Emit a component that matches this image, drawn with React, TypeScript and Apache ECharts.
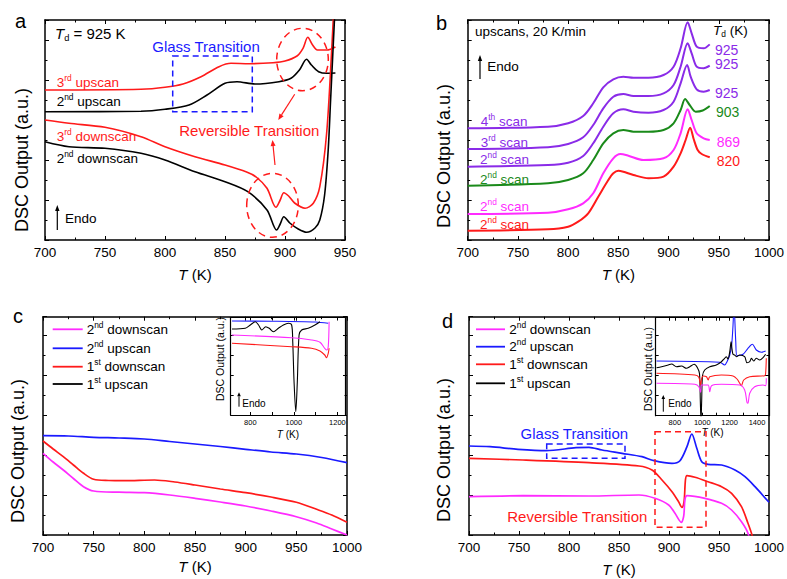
import React, { useEffect, useRef } from "react";
import * as echarts from "echarts";

const FONT = 'Arial, "Liberation Sans", Helvetica, sans-serif';
const RED = "#ff1a1a";
const BLUE = "#1a1aff";
const MAG = "#ff2bff";
const GREEN = "#1a8a1a";
const PURP = "#8a2be8";
const BLK = "#000000";

type Pt = [number, number];

// ---------- Panel a (T in K, signal in arbitrary units) ----------
const aUp3: Pt[] = [[700,150],[780,150.7],[800,152.7],[815,156],[830,163.3],[845,173.3],[855,176.7],[870,176.3],[890,177.3],[900,179],[910,184],[915,191.7],[919,202.7],[923,195],[927,190],[935,190],[942,193]];
const aUp2: Pt[] = [[700,128.3],[780,128.7],[800,130.7],[820,135],[835,145],[850,156.7],[860,158.3],[875,156],[895,158.3],[905,161.7],[912,170],[918,180.7],[922,175],[928,168.3],[935,166.7],[942,167]];
const aDown3: Pt[] = [[700,120],[720,116.7],[750,112.7],[780,103.3],[800,93.3],[825,83.3],[850,75],[868,68],[876,63],[885,51.7],[892.5,32.7],[896,40],[899,47.3],[903,44],[908,37],[916.7,31.7],[923.6,36.7],[929,53.3],[934.7,106.7],[938.9,190],[941,240]];
const aDown2: Pt[] = [[700,98.3],[720,93.3],[750,91.7],[780,86.7],[800,80],[825,68.3],[850,58.3],[869,48.3],[885,30],[893,10],[896,16],[899,23.3],[904,17],[911,11],[918,7.7],[925,12],[929,20],[933,45],[936,90],[938,140],[940,190],[942,240]];

// ---------- Panel b ----------
const bRed: Pt[] = [[700,9.3],[780,10.7],[800,13.3],[810,18.3],[820,26.7],[830,43.3],[840,60],[845,66.7],[850,69.3],[855,68.3],[865,65],[880,61.7],[895,63.3],[905,73.3],[912,86.7],[917,100],[921.5,112.3],[925,101],[929,90],[933,86],[941,82.7]];
const bMag: Pt[] = [[700,26],[780,27.3],[800,30.7],[815,36.7],[825,46.7],[835,66.7],[845,81.7],[852,86],[860,84.3],[875,80],[895,81.7],[905,90],[912,106.7],[919,130.7],[923,120],[928,106.7],[935,101.7],[941,100]];
const bGreen: Pt[] = [[700,54.3],[780,56.7],[800,60],[815,66.7],[825,80],[835,96.7],[845,106.7],[855,110],[865,108.3],[880,108.3],[895,110],[905,116.7],[912,130],[916.5,141],[921,135],[927,128.3],[934,129.5],[941,134]];
const bScan2: Pt[] = [[700,73.3],[780,75],[800,77.3],[815,84],[825,96.7],[835,113.3],[845,126.7],[855,130.7],[865,128.3],[880,127.3],[895,130],[905,138.3],[912,156.7],[918.5,175],[922,163.3],[928,150.7],[935,148.3],[941,150]];
const bScan3: Pt[] = [[700,91],[780,92.7],[800,96],[815,102.7],[825,115],[835,131.7],[845,143.3],[855,146],[865,144],[880,144],[895,146.7],[905,155],[912,173.3],[919,196.7],[923,186.7],[928,173.3],[935,171.7],[941,174.3]];
const bScan4: Pt[] = [[700,111.7],[780,113.3],[800,116.7],[815,124],[825,136.7],[835,152.7],[845,160.7],[855,163.3],[865,162.3],[880,162.3],[895,165],[905,173.3],[912,191.7],[919,217.7],[923,206.7],[928,193.3],[935,191.7],[941,195.6]];
const bTdLabels = ["925", "925", "925", "903", "869", "820"];

// ---------- Panel c ----------
const cUp2: Pt[] = [[700,99.3],[725,99],[750,97.7],[775,97],[800,96],[825,93.5],[850,91],[875,88.5],[900,85.7],[925,83],[950,81],[975,77.5],[1000,72.3]];
const cDown1: Pt[] = [[700,94],[710,86],[720,78.3],[730,70],[740,61.7],[750,55.7],[765,54.5],[780,54.3],[810,55],[830,53],[850,50],[875,46],[900,42.3],[925,38],[950,32.7],[970,25.7],[985,20],[1000,12.7]];
const cDown2: Pt[] = [[700,81.7],[710,73],[720,65],[730,56.5],[740,48.3],[750,44],[775,42.8],[800,42.3],[825,40],[850,36.7],[875,33],[900,29],[925,24],[950,18.3],[970,12],[985,6],[1000,0]];
// inset c
const icUp2: Pt[] = [[716,94],[900,93.8],[1100,93],[1158,91.7]];
const icUp1: Pt[] = [[716,86],[777,86.7],[800,90],[823,93.3],[838,90],[853,85],[871,88.3],[887,86.7],[906,83.3],[929,86.7],[952,90],[975,91.7],[990,90],[995,73.3],[1001,33.3],[1009,3.3],[1016,33.3],[1024,80],[1036,85],[1066,86.7],[1097,90],[1120,93.3]];
const icDown2: Pt[] = [[716,80],[990,77.3],[1081,75],[1120,72.7],[1142,66.7],[1151,65],[1158,68.3],[1162,93.3]];
const icDown1: Pt[] = [[716,71.7],[990,68.3],[1081,66.7],[1120,64],[1142,60],[1150,57.3],[1158,61.7],[1162,66.7]];

// ---------- Panel d ----------
const dUp2: Pt[] = [[700,89],[721,88.3],[749,85.7],[777,84.3],[807,87.3],[820,87.7],[833,85],[853,81.7],[873,78.3],[885,74.3],[903,71.7],[911,74.3],[918,88.3],[922.8,101],[927.8,86.7],[932.8,73.3],[939,70.7],[952.6,70],[966,65],[976,58.3],[986,48.3],[1000,32.7]];
const dDown1: Pt[] = [[700,76.7],[754,75],[820,72.3],[870,69],[883,65],[893,55],[903,43.3],[909.6,33.3],[913,27.7],[915,33],[918,59.3],[926,57.7],[939,53.3],[952.6,48.3],[962.6,41.7],[972.5,28.3],[979,11.7],[983,0],[988,-20]];
const dDown2: Pt[] = [[700,38.3],[754,39.3],[820,39],[870,40],[886,36.7],[899.7,30],[906,21.7],[912.3,12.7],[914.6,18.3],[918,39.3],[936,36.7],[952.6,31.7],[962.6,25],[972.5,13.3],[979,1.7],[984,-20]];
// inset d
const idUp2: Pt[] = [[666,54.7],[1128,53.4],[1164,50.7],[1181,54],[1201,60.7],[1215,70.7],[1225,90.7],[1232,110],[1245,74],[1254,60],[1298,61.4],[1334,67.4],[1366,71.4],[1395,65.7],[1432,63.4],[1463,64.7]];
const idUp1: Pt[] = [[666,48],[703,49],[752,50.7],[776,51.7],[812,49],[849,49.7],[885,47.4],[909,49],[941,51.4],[965,48],[980,42],[986,15],[991,-5],[996,15],[1002,40],[1018,45.7],[1055,49],[1103,50.7],[1140,54],[1164,57.4],[1176,59],[1188,56.7],[1201,64],[1211,74],[1218,66],[1225,61.4],[1237,60.7],[1250,59],[1274,60.7],[1310,59],[1327,53],[1347,54],[1359,57.4],[1376,54.7],[1395,57.4],[1420,55.7],[1444,58],[1463,61.4]];
const idDown1: Pt[] = [[666,42.4],[946,40.7],[975,38.5],[988,30.7],[996,37.4],[1007,39.7],[1031,39],[1043,35.7],[1055,39],[1140,40.7],[1225,39.7],[1254,36.7],[1274,32.4],[1286,30],[1303,35.7],[1347,39],[1456,40],[1463,42],[1468,57.4]];
const idDown2: Pt[] = [[666,32.4],[946,31.4],[975,29],[988,23.4],[996,30.7],[1043,30.7],[1055,24],[1068,30],[1140,31.4],[1274,30.7],[1310,25.7],[1327,13.4],[1334,12.4],[1347,22.4],[1383,29],[1444,30.7],[1463,30],[1468,37.4]];

const legendNames: Array<[string, string, string]> = [
  ["2", "nd", " downscan"],
  ["2", "nd", " upscan"],
  ["1", "st", " downscan"],
  ["1", "st", " upscan"],
];
const legendColors = [MAG, BLUE, RED, BLK];
const yTitle = "DSC Output (a.u.)";

// ---------- geometry ----------
const grids = [
  { left: 45, top: 20, width: 300, height: 220 },
  { left: 467.7, top: 20, width: 302.3, height: 220 },
  { left: 43, top: 316.7, width: 304, height: 218.3 },
  { left: 469, top: 316.7, width: 302, height: 218.3 },
  { left: 230.7, top: 317.5, width: 114.3, height: 97.5 },
  { left: 655.7, top: 317.7, width: 113.6, height: 98 },
];

const tickLine = { color: "#000", width: 1 };
const plain = (v: number) => String(v);

function mainX(i: number, max: number, gap: number) {
  const base = {
    type: "value", gridIndex: i, min: 700, max, interval: 50,
    axisLine: { show: true, onZero: false, lineStyle: { color: "#000", width: 1.5 } },
    axisTick: { show: true, inside: true, length: 4, lineStyle: tickLine },
    minorTick: { show: true, splitNumber: 2, length: 2.5, lineStyle: tickLine },
    splitLine: { show: false }, minorSplitLine: { show: false },
  };
  return [
    {
      ...base, position: "bottom",
      axisLabel: { show: true, fontSize: 13.5, color: "#000", margin: 5, fontFamily: FONT, formatter: plain },
      name: "{i|T} (K)", nameLocation: "middle", nameGap: gap,
      nameTextStyle: { fontSize: 15, color: "#000", fontFamily: FONT, rich: { i: { fontSize: 15, fontStyle: "italic", color: "#000", fontFamily: FONT } } },
    },
    { ...base, position: "top", axisLabel: { show: false } },
  ];
}
function mainY(i: number, max: number) {
  const base = {
    type: "value", gridIndex: i, min: 0, max, interval: 40,
    axisLine: { show: true, onZero: false, lineStyle: { color: "#000", width: 1.5 } },
    axisTick: { show: true, inside: true, length: 4, lineStyle: tickLine },
    minorTick: { show: true, splitNumber: 2, length: 2.5, lineStyle: tickLine },
    splitLine: { show: false }, axisLabel: { show: false },
  };
  return [
    { ...base, position: "left" },
    { ...base, position: "right" },
  ];
}
function insetX(i: number, min: number, max: number, labels: number[], ticks: number[], gap: number) {
  const base = {
    type: "value", gridIndex: i, min, max,
    axisLine: { show: true, onZero: false, lineStyle: { color: "#000", width: 1.2 } },
    axisTick: { show: true, inside: true, length: 3, lineStyle: tickLine, customValues: ticks },
    splitLine: { show: false },
  };
  return [
    { ...base, position: "bottom",
      axisLabel: { show: true, fontSize: 7.5, color: "#000", margin: 3, fontFamily: FONT, customValues: labels, formatter: plain },
      name: "{i|T} (K)", nameLocation: "middle", nameGap: gap,
      nameTextStyle: { fontSize: 10, color: "#000", fontFamily: FONT, rich: { i: { fontSize: 10, fontStyle: "italic", color: "#000", fontFamily: FONT } } } },
    { ...base, position: "top", axisLabel: { show: false } },
  ];
}
function insetY(i: number, max: number) {
  const base = {
    type: "value", gridIndex: i, min: 0, max, interval: 20,
    axisLine: { show: true, onZero: false, lineStyle: { color: "#000", width: 1.2 } },
    axisTick: { show: true, inside: true, length: 3, lineStyle: tickLine },
    splitLine: { show: false }, axisLabel: { show: false },
  };
  return [
    { ...base, position: "left" },
    { ...base, position: "right", axisTick: { show: false } },
  ];
}

function line(g: number, data: Pt[], color: string, w: number, name: string) {
  return {
    type: "line", name, xAxisIndex: 2 * g, yAxisIndex: 2 * g, data,
    showSymbol: false, symbol: "none", smooth: 0.3, clip: true, silent: true,
    lineStyle: { color, width: w }, itemStyle: { color },
  };
}

// ---------- graphic helpers ----------
function rt(x: number, y: number, tokens: Array<[string, string]>, color: string, size: number, align = "left", rotation = 0) {
  const text = tokens.map(([s, t]) => `{${t}|${s}}`).join("");
  const sub = Math.round(size * 0.62 * 10) / 10;
  return {
    type: "text", x, y, rotation, silent: true, z: 100,
    style: {
      text, align, verticalAlign: "middle", fontFamily: FONT, fontSize: size, fill: color,
      rich: {
        n: { fontSize: size, fontFamily: FONT, fill: color, lineHeight: size + 3 },
        i: { fontSize: size, fontFamily: FONT, fontStyle: "italic", fill: color, lineHeight: size + 3 },
        s: { fontSize: sub, fontFamily: FONT, fill: color, lineHeight: sub + 2, verticalAlign: "top" },
        b: { fontSize: sub, fontFamily: FONT, fill: color, lineHeight: sub, verticalAlign: "bottom" },
      },
    },
  };
}
function arrow(x1: number, y1: number, x2: number, y2: number, color: string, head = 6, hw = 2.5, lw = 1.2) {
  const dx = x2 - x1, dy = y2 - y1, L = Math.hypot(dx, dy), ux = dx / L, uy = dy / L;
  const bx = x2 - ux * head, by = y2 - uy * head;
  return [
    { type: "line", silent: true, z: 100, shape: { x1, y1, x2: bx, y2: by }, style: { stroke: color, lineWidth: lw } },
    { type: "polygon", silent: true, z: 100, shape: { points: [[x2, y2], [bx - uy * hw, by + ux * hw], [bx + uy * hw, by - ux * hw]] }, style: { fill: color } },
  ];
}
function dashRect(x: number, y: number, w: number, h: number, color: string) {
  return { type: "rect", silent: true, z: 100, shape: { x, y, width: w, height: h }, style: { fill: "none", stroke: color, lineWidth: 1.5, lineDash: [6, 4] } };
}
function dashEllipse(cx: number, cy: number, rx: number, ry: number, color: string) {
  return { type: "ellipse", silent: true, z: 100, shape: { cx, cy, rx, ry }, style: { fill: "none", stroke: color, lineWidth: 1.5, lineDash: [7, 5] } };
}
function legend(x1: number, x2: number, tx: number, ys: number[]) {
  const out: any[] = [];
  ys.forEach((y, k) => {
    out.push({ type: "line", silent: true, z: 100, shape: { x1, y1: y, x2, y2: y }, style: { stroke: legendColors[k], lineWidth: 1.8 } });
    const [a, b, c] = legendNames[k];
    out.push(rt(tx, y, [[a, "n"], [b, "s"], [c, "n"]], "#000", 13.5));
  });
  return out;
}
const R90 = Math.PI / 2;

const graphics: any[] = [
  // y-axis titles
  rt(21.5, 160, [[yTitle, "n"]], BLK, 18, "center", R90),
  rt(444, 156, [[yTitle, "n"]], BLK, 18, "center", R90),
  rt(17.5, 451, [[yTitle, "n"]], BLK, 18, "center", R90),
  rt(444, 450, [[yTitle, "n"]], BLK, 18, "center", R90),
  rt(220, 359, [[yTitle, "n"]], BLK, 10.5, "center", R90),
  rt(648.3, 369, [[yTitle, "n"]], BLK, 10.5, "center", R90),
  // panel letters
  rt(15, 21, [["a", "n"]], "#000", 20),
  rt(436, 23, [["b", "n"]], "#000", 20),
  rt(13, 315.5, [["c", "n"]], "#000", 20),
  rt(442, 321, [["d", "n"]], "#000", 20),
  // panel a
  rt(55, 33.3, [["T", "i"], ["d", "b"], [" = 925 K", "n"]], "#000", 15),
  rt(206, 46.7, [["Glass Transition", "n"]], BLUE, 15, "center"),
  rt(249.3, 130, [["Reversible Transition", "n"]], RED, 15, "center"),
  rt(56.7, 82.7, [["3", "n"], ["rd", "s"], [" upscan", "n"]], RED, 13.5),
  rt(56.7, 101.7, [["2", "n"], ["nd", "s"], [" upscan", "n"]], BLK, 13.5),
  rt(56.7, 136.7, [["3", "n"], ["rd", "s"], [" downscan", "n"]], RED, 13.5),
  rt(56.7, 158.3, [["2", "n"], ["nd", "s"], [" downscan", "n"]], BLK, 13.5),
  ...arrow(57.3, 230, 57.3, 205, BLK, 6, 2.2, 1.2),
  rt(65, 218.3, [["Endo", "n"]], BLK, 13.5),
  dashRect(172.7, 56, 79.6, 55.7, BLUE),
  dashEllipse(302.5, 59.5, 25.8, 31.2, RED),
  dashEllipse(272.5, 205.3, 25.8, 32, RED),
  ...arrow(294.7, 94.3, 278.3, 120, RED, 6, 2.5, 1.2),
  ...arrow(275, 165, 272.5, 140, RED, 6, 2.5, 1.2),
  // panel b
  rt(475, 31.7, [["upscans, 20 K/min", "n"]], BLK, 13.5),
  ...arrow(480, 79, 480, 55, BLK, 6, 2.2, 1.2),
  rt(487.3, 66.7, [["Endo", "n"]], BLK, 13.5),
  rt(713, 30, [["T", "i"], ["d", "b"], [" (K)", "n"]], BLK, 13.5),
  rt(715, 49.5, [[bTdLabels[0], "n"]], PURP, 14),
  rt(715, 64.3, [[bTdLabels[1], "n"]], PURP, 14),
  rt(715, 93.3, [[bTdLabels[2], "n"]], PURP, 14),
  rt(716, 111.7, [[bTdLabels[3], "n"]], GREEN, 14),
  rt(716.7, 142.3, [[bTdLabels[4], "n"]], MAG, 14),
  rt(716.7, 160.7, [[bTdLabels[5], "n"]], RED, 14),
  rt(480.7, 121.7, [["4", "n"], ["th", "s"], [" scan", "n"]], PURP, 13.5),
  rt(480.7, 142.7, [["3", "n"], ["rd", "s"], [" scan", "n"]], PURP, 13.5),
  rt(480, 159.3, [["2", "n"], ["nd", "s"], [" scan", "n"]], PURP, 13.5),
  rt(480, 179, [["2", "n"], ["nd", "s"], [" scan", "n"]], GREEN, 13.5),
  rt(480, 206, [["2", "n"], ["nd", "s"], [" scan", "n"]], MAG, 13.5),
  rt(480, 224.3, [["2", "n"], ["nd", "s"], [" scan", "n"]], RED, 13.5),
  // panel c
  ...legend(52.7, 82.7, 86.7, [329.3, 348.3, 366.7, 384]),
  ...arrow(239, 406.7, 239, 392.3, BLK, 4, 1.8, 1),
  rt(242.3, 403.3, [["Endo", "n"]], BLK, 10),
  // panel d
  ...legend(476, 505, 509.3, [329.3, 346.7, 364.3, 383.3]),
  rt(574.3, 433.3, [["Glass Transition", "n"]], BLUE, 15, "center"),
  dashRect(546.7, 444, 78.3, 14.3, BLUE),
  dashRect(655, 431.7, 51, 95.6, RED),
  rt(577.3, 516.7, [["Reversible Transition", "n"]], RED, 15, "center"),
  ...arrow(663.3, 411.7, 663.3, 395, BLK, 4, 1.8, 1),
  rt(668.3, 403.3, [["Endo", "n"]], BLK, 10),
];

export default function App() {
  const ref = useRef<HTMLDivElement>(null);
  useEffect(() => {
    if (!ref.current) return;
    const chart = echarts.init(ref.current, undefined, { renderer: "svg" });
    const option: any = {
      animation: false,
      backgroundColor: "#fff",
      textStyle: { fontFamily: FONT },
      grid: grids.map((g) => ({ ...g, containLabel: false, show: false })),
      xAxis: [
        ...mainX(0, 950, 27),
        ...mainX(1, 1000, 27),
        ...mainX(2, 1000, 24),
        ...mainX(3, 1000, 27),
        ...insetX(4, 710, 1235, [800, 1000, 1200], [800, 900, 1000, 1100, 1200], 14),
        ...insetX(5, 660, 1490, [800, 1000, 1200, 1400], [800, 900, 1000, 1100, 1200, 1300, 1400], 11.5),
      ],
      yAxis: [
        ...mainY(0, 220),
        ...mainY(1, 220),
        ...mainY(2, 218.3),
        ...mainY(3, 218.3),
        ...insetY(4, 97.5),
        ...insetY(5, 98),
      ],
      series: [
        line(0, aUp3, RED, 1.6, "a 3rd upscan"),
        line(0, aUp2, BLK, 1.6, "a 2nd upscan"),
        line(0, aDown3, RED, 1.6, "a 3rd downscan"),
        line(0, aDown2, BLK, 1.6, "a 2nd downscan"),
        line(1, bRed, RED, 2, "b 820"),
        line(1, bMag, MAG, 2, "b 869"),
        line(1, bGreen, GREEN, 2, "b 903"),
        line(1, bScan2, PURP, 2, "b 925 2nd"),
        line(1, bScan3, PURP, 2, "b 925 3rd"),
        line(1, bScan4, PURP, 2, "b 925 4th"),
        line(2, cUp2, BLUE, 1.7, "c 2nd upscan"),
        line(2, cDown1, RED, 1.7, "c 1st downscan"),
        line(2, cDown2, MAG, 1.7, "c 2nd downscan"),
        line(4, icUp2, BLUE, 1.1, "ic 2nd upscan"),
        line(4, icUp1, BLK, 1.1, "ic 1st upscan"),
        line(4, icDown2, MAG, 1.1, "ic 2nd downscan"),
        line(4, icDown1, RED, 1.1, "ic 1st downscan"),
        line(3, dUp2, BLUE, 1.7, "d 2nd upscan"),
        line(3, dDown1, RED, 1.7, "d 1st downscan"),
        line(3, dDown2, MAG, 1.7, "d 2nd downscan"),
        line(5, idUp2, BLUE, 1.1, "id 2nd upscan"),
        line(5, idUp1, BLK, 1.1, "id 1st upscan"),
        line(5, idDown1, RED, 1.1, "id 1st downscan"),
        line(5, idDown2, MAG, 1.1, "id 2nd downscan"),
      ],
      graphic: graphics,
    };
    chart.setOption(option);
    return () => chart.dispose();
  }, []);
  return (
    <div
      ref={ref}
      style={{ position: "fixed", left: 0, top: 0, width: 787, height: 579, background: "#fff" }}
    />
  );
}
